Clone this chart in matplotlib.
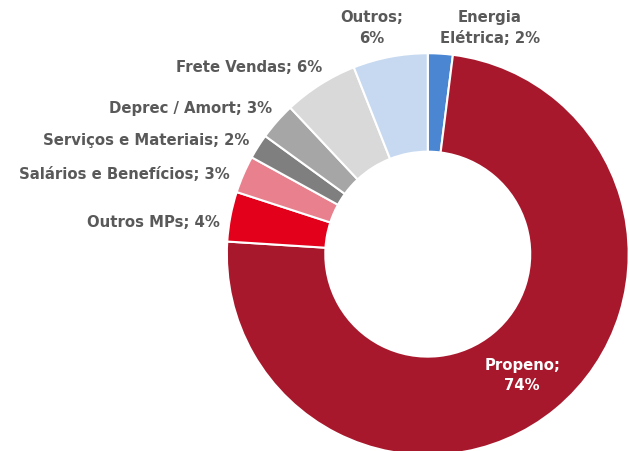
import matplotlib.pyplot as plt

# slice data, clockwise from 12 o'clock
names = ['Energia\nElétrica', 'Propeno', 'Outros MPs', 'Salários e Benefícios',
         'Serviços e Materiais', 'Deprec / Amort', 'Frete Vendas', 'Outros']
shares = [2, 74, 4, 3, 2, 3, 6, 6]
colors = ['#4a86d2', '#a8182c', '#e2001a', '#e9808d',
          '#7f7f7f', '#a6a6a6', '#d9d9d9', '#c6d9f0']

# label placement (data coords of the unit donut) and alignment
label_pos = [(0.31, 1.13), (0.47, -0.60), (-1.035, 0.164), (-0.985, 0.403),
             (-0.886, 0.572), (-0.776, 0.731), (-0.527, 0.935), (-0.28, 1.13)]
label_ha = ['center', 'center', 'right', 'right', 'right', 'right', 'right', 'center']
label_sep = ['; ', ';\n', '; ', '; ', '; ', '; ', '; ', ';\n']

fig = plt.figure(figsize=(6.3, 4.52), dpi=100)
ax = fig.add_axes([0.360, -0.009, 0.638, 0.889])

ax.pie(shares, colors=colors, startangle=90, counterclock=False, radius=1.0,
       wedgeprops=dict(width=0.49, edgecolor='white', linewidth=1.5))
ax.set_xlim(-1, 1)
ax.set_ylim(-1, 1)
ax.set_aspect('equal')
ax.axis('off')

for name, val, pos, ha, sep in zip(names, shares, label_pos, label_ha, label_sep):
    col = 'white' if name == 'Propeno' else '#595959'
    ax.text(pos[0], pos[1], '%s%s%d%%' % (name, sep, val), ha=ha, va='center',
            fontsize=10.7, fontweight='bold', color=col, linespacing=1.45)

fig.savefig('out.png', dpi=100)
